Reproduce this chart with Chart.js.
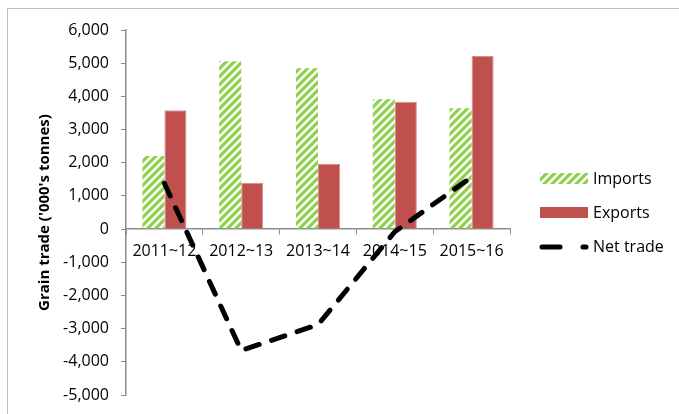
<!DOCTYPE html>
<html>
<head>
<meta charset="utf-8">
<script src="https://cdn.jsdelivr.net/npm/chart.js@4"></script>
<style>
  html,body{margin:0;padding:0;background:#fff;}
  #wrap{width:679px;height:414px;position:relative;}
</style>
</head>
<body>
<div id="wrap"><canvas id="c" width="679" height="414"></canvas></div>
<script>
const years = ['2011~12','2012~13','2013~14','2014~15','2015~16'];
const imports = [2200, 5060, 4850, 3910, 3640];
const exports = [3580, 1400, 1970, 3840, 5215];
const netTrade = [1380, -3660, -2880, -80, 1570];
const yTicks = [6000,5000,4000,3000,2000,1000,0,-1000,-2000,-3000,-4000,-5000];

const FONT = '"Open Sans", "Liberation Sans", sans-serif';
const GREEN = '#8FD14F';
const RED = '#C0504D';
const AXIS = '#8C8C8C';

// green diagonal stripes for imports
function hatch(){
  const s = 8, p = document.createElement('canvas');
  p.width = s; p.height = s;
  const g = p.getContext('2d');
  g.strokeStyle = GREEN; g.lineWidth = 3.2;
  g.beginPath();
  g.moveTo(0, s); g.lineTo(s, 0);
  g.moveTo(-s/2, s/2); g.lineTo(s/2, -s/2);
  g.moveTo(s/2, s*1.5); g.lineTo(s*1.5, s/2);
  g.stroke();
  return g.createPattern(p, 'repeat');
}
const hatchFill = hatch();

const decor = {
  id:'decor',
  afterDraw(chart){
    const ctx = chart.ctx, a = chart.chartArea;
    ctx.save();
    ctx.strokeStyle = '#BFBFBF'; ctx.lineWidth = 1;
    ctx.beginPath(); ctx.moveTo(7.5, 414); ctx.lineTo(7.5, 8.5); ctx.lineTo(679, 8.5); ctx.stroke();
    ctx.translate(45, (a.top + a.bottom)/2);
    ctx.rotate(-Math.PI/2);
    ctx.fillStyle = '#000'; ctx.font = 'bold 15px ' + FONT;
    ctx.textAlign = 'center'; ctx.textBaseline = 'middle';
    ctx.fillText("Grain trade ('000's tonnes)", 0, 0);
    ctx.restore();
    // legend
    ctx.save();
    const lx = 540, lw = 48;
    ctx.font = '16px ' + FONT; ctx.textBaseline = 'middle';
    ctx.fillStyle = hatchFill; ctx.fillRect(lx, 173, lw, 11);
    ctx.fillStyle = RED; ctx.fillRect(lx, 207, lw, 11);
    ctx.strokeStyle = '#000'; ctx.lineWidth = 5; ctx.lineCap = 'round';
    ctx.beginPath(); ctx.moveTo(lx+2, 247); ctx.lineTo(lx+20, 247); ctx.moveTo(lx+43, 247); ctx.lineTo(lx+46, 247); ctx.stroke();
    ctx.fillStyle = '#000';
    ctx.fillText('Imports', 593, 179);
    ctx.fillText('Exports', 593, 213);
    ctx.fillText('Net trade', 593, 247);
    ctx.restore();
  }
};

new Chart(document.getElementById('c'), {
  type:'bar',
  data:{
    labels: years,
    datasets:[
      {label:'Imports', data:imports, backgroundColor:hatchFill, borderWidth:0, order:1,
       categoryPercentage:0.574, barPercentage:1},
      {label:'Exports', data:exports, backgroundColor:RED, borderColor:'#D8908E', borderWidth:1, order:1,
       categoryPercentage:0.574, barPercentage:1},
      {type:'line', label:'Net trade', data:netTrade, borderColor:'#000', borderWidth:5,
       borderDash:[14,13], borderCapStyle:'round', borderJoinStyle:'round', pointRadius:0, tension:0, fill:false, order:0}
    ]
  },
  options:{
    responsive:false, animation:false,
    layout:{ padding:{ top:30, bottom:19, right:169, left:0 } },
    plugins:{ legend:{display:false}, tooltip:{enabled:false} },
    scales:{
      x:{
        position:{ y:0 },
        grid:{ display:true, offset:true, drawOnChartArea:false, drawTicks:true, tickLength:5, color:AXIS },
        border:{ display:true, color:AXIS, width:1.5 },
        ticks:{ color:'#000', font:{ family:FONT, size:16 }, padding:8, maxRotation:0, autoSkip:false }
      },
      y:{
        min:-5000, max:6000,
        afterFit(s){ s.width = 126; },
        afterBuildTicks(s){ s.ticks = yTicks.map(v=>({value:v})); },
        grid:{ display:true, drawOnChartArea:false, drawTicks:true, tickLength:5, color:AXIS },
        border:{ display:true, color:AXIS, width:1.5 },
        ticks:{ color:'#000', font:{ family:FONT, size:16, lineHeight:0.7 }, padding:12,
          callback:v=>v.toLocaleString('en-US') }
      }
    }
  },
  plugins:[decor]
});
</script>
</body>
</html>
